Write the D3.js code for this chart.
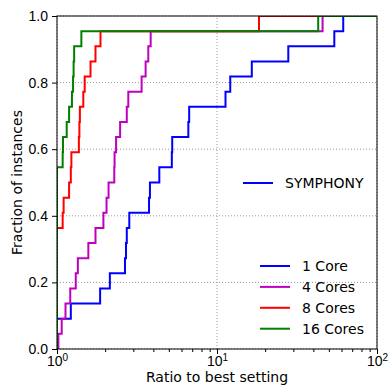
<!DOCTYPE html>
<html>
<head>
<meta charset="utf-8">
<script src="https://cdn.jsdelivr.net/npm/d3@7"></script>
<style>
  body { margin: 0; background: #fff; }
  svg { font-family: "DejaVu Sans", sans-serif; }
  .tick text { font-size: 14px; fill: #000; }
</style>
</head>
<body>
<div id="chart"></div>
<script>
// series: sorted ratio per instance (22 instances each)
const categories = ["1 Core", "4 Cores", "8 Cores", "16 Cores"];
const oneCore = [1, 1, 1.22, 1.86, 2.14, 2.66, 2.70, 2.73, 2.83, 3.76, 3.81, 4.36, 5.22, 5.25, 6.62, 6.70, 11.3, 12.1, 16.5, 27.9, 54.1, 61.5];
const fourCores = [1.02, 1.07, 1.13, 1.21, 1.31, 1.35, 1.57, 1.74, 1.95, 2.04, 2.10, 2.28, 2.29, 2.34, 2.48, 2.73, 2.79, 3.38, 3.58, 3.72, 3.85, 45.7];
const eightCores = [1, 1, 1, 1, 1, 1, 1, 1, 1.085, 1.10, 1.19, 1.22, 1.23, 1.37, 1.38, 1.39, 1.46, 1.49, 1.62, 1.74, 1.87, 18.3];
const sixteenCores = [1, 1, 1, 1, 1, 1, 1, 1, 1, 1, 1, 1, 1.085, 1.09, 1.15, 1.19, 1.24, 1.26, 1.27, 1.28, 1.42, 42.9];
const xTicks = [1, 10, 100];
const xMinorTicks = [2, 3, 4, 5, 6, 7, 8, 9, 20, 30, 40, 50, 60, 70, 80, 90];
const yTicks = [0, 0.2, 0.4, 0.6, 0.8, 1.0];

const colors = ["#0000ff", "#bf00bf", "#ff0000", "#008000"];
const allSeries = [oneCore, fourCores, eightCores, sixteenCores];

const width = 389, height = 387;
const margin = {top: 16, right: 12, bottom: 38, left: 57};

const svg = d3.select("#chart").append("svg")
    .attr("width", width)
    .attr("height", height);

const x = d3.scaleLog()
    .domain([1, 100])
    .range([margin.left, width - margin.right]);

const y = d3.scaleLinear()
    .domain([0, 1])
    .range([height - margin.bottom, margin.top]);

// clip for the data lines
svg.append("clipPath").attr("id", "plot-clip")
  .append("rect")
    .attr("x", x(1)).attr("y", y(1))
    .attr("width", x(100) - x(1)).attr("height", y(0) - y(1));

// grid (dotted)
const grid = svg.append("g").attr("class", "grid");
grid.selectAll(".gx").data(xTicks).enter().append("line")
    .attr("x1", d => x(d)).attr("x2", d => x(d))
    .attr("y1", y(0)).attr("y2", y(1))
    .attr("stroke", "#9a9a9a").attr("stroke-width", 1).attr("stroke-dasharray", "1,2");
grid.selectAll(".gy").data(yTicks).enter().append("line")
    .attr("x1", x(1)).attr("x2", x(100))
    .attr("y1", d => y(d)).attr("y2", d => y(d))
    .attr("stroke", "#9a9a9a").attr("stroke-width", 1).attr("stroke-dasharray", "1,2");

// step lines (cdf)
const line = d3.line()
    .x(d => x(d[0]))
    .y(d => y(d[1]))
    .curve(d3.curveStepBefore);

function cdfPoints(vals) {
    const n = vals.length;
    const pts = vals.map((v, i) => [v, i / n]);
    pts.push([100, 1]);
    return pts;
}

const lines_g = svg.append("g").attr("clip-path", "url(#plot-clip)");
allSeries.forEach((s, i) => {
    lines_g.append("path")
        .datum(cdfPoints(s))
        .attr("d", line)
        .attr("fill", "none")
        .attr("stroke", colors[i])
        .attr("stroke-width", 2);
});

// x axis
const xAxisCall = d3.axisBottom(x)
    .tickValues(xTicks)
    .tickSize(5)
    .tickPadding(2)
    .tickFormat(d => "");
const xAxis_g = svg.append("g")
    .attr("transform", `translate(0, ${y(0)})`)
    .call(xAxisCall);
xAxis_g.select(".domain").remove();
xAxis_g.selectAll(".tick text").each(function(d) {
    const t = d3.select(this);
    t.append("tspan").text("10");
    t.append("tspan")
        .attr("dy", "-0.45em")
        .attr("font-size", "10px")
        .text(Math.round(Math.log10(d)));
});

const xMinor_g = svg.append("g")
    .attr("transform", `translate(0, ${y(0)})`)
    .call(d3.axisBottom(x).tickValues(xMinorTicks).tickSize(3).tickFormat(""));
xMinor_g.select(".domain").remove();

// y axis
const yAxisCall = d3.axisLeft(y)
    .tickValues(yTicks)
    .tickSize(5)
    .tickPadding(4)
    .tickFormat(d3.format(".1f"));
const yAxis_g = svg.append("g")
    .attr("transform", `translate(${x(1)}, 0)`)
    .call(yAxisCall);
yAxis_g.select(".domain").remove();

// spines
svg.append("rect")
    .attr("x", x(1)).attr("y", y(1))
    .attr("width", x(100) - x(1)).attr("height", y(0) - y(1))
    .attr("fill", "none").attr("stroke", "#000").attr("stroke-width", 1);

// axis labels
svg.append("text")
    .attr("x", (x(1) + x(100)) / 2)
    .attr("y", 382)
    .attr("font-size", "14px")
    .attr("text-anchor", "middle")
    .text("Ratio to best setting");

svg.append("text")
    .attr("transform", `translate(22, ${(y(0) + y(1)) / 2}) rotate(-90)`)
    .attr("font-size", "14px")
    .attr("text-anchor", "middle")
    .text("Fraction of instances");

// legend: solver
const leg1 = svg.append("g").attr("transform", "translate(243, 183)");
leg1.append("line").attr("x1", 0).attr("x2", 30)
    .attr("stroke", colors[0]).attr("stroke-width", 2);
leg1.append("text").attr("x", 42).attr("dy", "0.36em")
    .attr("font-size", "14px").text("SYMPHONY");

// legend: cores
const leg2 = svg.append("g").attr("transform", "translate(260, 266)");
categories.forEach((c, i) => {
    const row = leg2.append("g").attr("transform", `translate(0, ${i * 20.9})`);
    row.append("line").attr("x1", 0).attr("x2", 30)
        .attr("stroke", colors[i]).attr("stroke-width", 2);
    row.append("text").attr("x", 42).attr("dy", "0.36em")
        .attr("font-size", "14px").text(c);
});
</script>
</body>
</html>
